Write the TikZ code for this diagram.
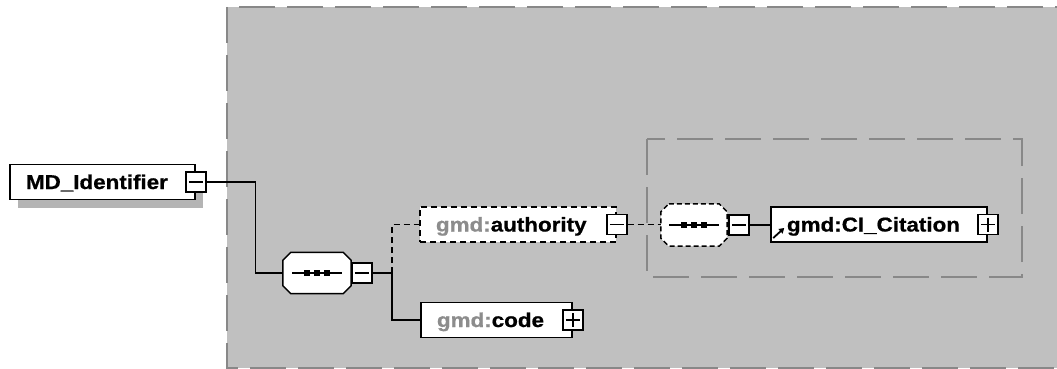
\documentclass[tikz,border=0pt]{standalone}
\usepackage{fontspec}
\setmainfont{Liberation Sans}[FakeStretch=1.12, BoldFeatures={FakeBold=0.8}]
\usepackage{xcolor}
\definecolor{panel}{HTML}{C0C0C0}
\definecolor{framecol}{HTML}{888888}
\definecolor{nsgray}{HTML}{8C8C8C}
\definecolor{shadowcol}{HTML}{B4B4B4}
\usepackage{tikz}
\usetikzlibrary{arrows.meta, shadows}

\tikzset{
  elem/.style={draw, fill=white, line width=1.6pt, inner xsep=16pt, inner ysep=0pt,
    text width=#1, align=left, minimum height=35pt, text height=14pt, text depth=0pt,
    font=\bfseries\fontsize{20}{24}\selectfont},
  optelem/.style={elem=#1, dash pattern=on 6pt off 4pt},
  seq/.style={minimum width=68pt, minimum height=41pt, inner sep=0pt},
  xbox/.style={draw, fill=white, line width=1.4pt, minimum width=20pt,
    minimum height=20pt, inner sep=0pt},
  minusbox/.style={xbox, path picture={
    \draw[line width=1.6pt] ([xshift=3pt]path picture bounding box.west)
      -- ([xshift=-3pt]path picture bounding box.east);}},
  plusbox/.style={xbox, path picture={
    \draw[line width=1.6pt] ([xshift=3pt]path picture bounding box.west)
      -- ([xshift=-3pt]path picture bounding box.east);
    \draw[line width=1.6pt] ([yshift=-3pt]path picture bounding box.north)
      -- ([yshift=3pt]path picture bounding box.south);}},
  wire/.style={line width=1.5pt},
  optwire/.style={wire, dash pattern=on 6pt off 4pt},
  panelframe/.style={draw=framecol, line width=1.5pt, dash pattern=on 36pt off 12pt}
}

% octagon with the sequence mark, drawn round a seq node
\newcommand{\seqmark}[2]{%
  \draw[fill=white, line width=1.5pt, #2]
    ([xshift=8pt]#1.north west) -- ([xshift=-8pt]#1.north east)
    -- ([yshift=-8pt]#1.north east) -- ([yshift=8pt]#1.south east)
    -- ([xshift=-8pt]#1.south east) -- ([xshift=8pt]#1.south west)
    -- ([yshift=8pt]#1.south west) -- ([yshift=-8pt]#1.north west) -- cycle;
  \draw[line width=1.3pt] ([xshift=-25pt]#1.center) -- ([xshift=25pt]#1.center);
  \foreach \dx in {-10,0,10}
    \fill ([xshift=\dx pt]#1.center) +(-3,-3) rectangle +(3,3);
}

\begin{document}
\begin{tikzpicture}[x=1pt, y=-1pt, >=Stealth]
  \useasboundingbox (0,0) rectangle (1057,369);
  \fill[white] (0,0) rectangle (1057,369);

  \fill[panel] (227,7) rectangle (1090,368);
  \draw[panelframe] (227,7) rectangle (1090,368);
  \draw[panelframe] (647,139) rectangle (1022,277);

  \node[elem=153pt, drop shadow={shadow xshift=8pt, shadow yshift=-8pt, fill=shadowcol, opacity=1}]
    (md) at (102.5,182) {MD\_Identifier};
  \node[minusbox] (mdx) at (md.east) {};

  \node[seq] (s1) at (317,273) {};
  \seqmark{s1}{}
  \node[minusbox, anchor=west] (s1x) at (s1.east) {};

  \node[optelem=164pt] (auth) at (518,224.5) {\textcolor{nsgray}{gmd:}authority};
  \node[minusbox] (authx) at (auth.east) {};

  \node[elem=119pt] (code) at (496.5,320) {\textcolor{nsgray}{gmd:}code};
  \node[plusbox] (codex) at (code.east) {};

  \node[seq, minimum width=66pt, minimum height=42pt] (s2) at (694,225) {};
  \seqmark{s2}{dash pattern=on 5pt off 3pt}
  \node[minusbox, anchor=west] (s2x) at ([xshift=1pt]s2.east) {};

  \node[elem=184pt] (cit) at (879,224.5) {gmd:CI\_Citation};
  \node[plusbox] (citx) at (cit.east) {};

  \draw[line width=1.8pt, -{Triangle[length=5pt, width=6pt]}]
    ([shift={(3,13.5)}]cit.west) -- ([shift={(14,3.5)}]cit.west);

  \coordinate (j1) at (392,273);
  \draw[wire] (mdx.east) -- ++(49,0) |- (s1.west);
  \draw[wire] (s1x.east) -- (j1) |- (code.west);
  \draw[optwire] (j1) |- (auth.west);
  \draw[optwire] (authx.east) -- (authx.east -| s2.west);
  \draw[wire] (s2x.east) -- (s2x.east -| cit.west);
\end{tikzpicture}
\end{document}
